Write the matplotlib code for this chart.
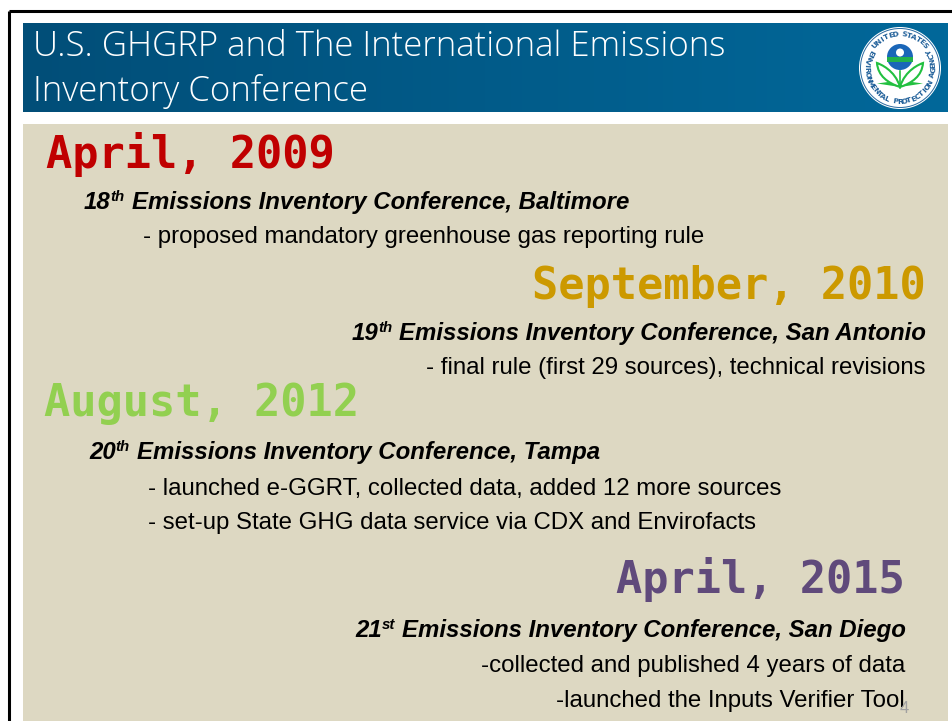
import numpy as np
import matplotlib
matplotlib.use('Agg')
import matplotlib.pyplot as plt
from matplotlib.patches import Circle, Rectangle, Polygon, Wedge, PathPatch
from matplotlib.path import Path

W, H = 952, 721
PT = 72 / 100  # pixels to points

title_lines = ['U.S. GHGRP and The International Emissions', 'Inventory Conference']
title_y = [56, 101]

# heading text, colour, anchor x, baseline y, alignment
dates = ['April, 2009', 'September, 2010', 'August, 2012', 'April, 2015']
date_colors = ['#C00000', '#CC9900', '#92D050', '#604A7B']
date_x = [46, 926, 44, 905]
date_y = [168, 299, 416, 593]
date_ha = ['left', 'right', 'left', 'right']

# conference lines: ordinal, suffix, rest
ordinals = ['18', '19', '20', '21']
suffixes = ['th', 'th', 'th', 'st']
conf_rest = ['Emissions Inventory Conference, Baltimore',
             'Emissions Inventory Conference, San Antonio',
             'Emissions Inventory Conference, Tampa',
             'Emissions Inventory Conference, San Diego']
conf_x = [84, 926, 89, 906]
conf_y = [209, 340, 459, 637]
conf_ha = ['left', 'right', 'left', 'right']

notes = ['- proposed mandatory greenhouse gas reporting rule',
         '- final rule (first 29 sources), technical revisions',
         '- launched e-GGRT, collected data, added 12 more sources',
         '- set-up State GHG data service via CDX and Envirofacts',
         '-collected and published 4 years of data',
         '-launched the Inputs Verifier Tool']
note_x = [143, 925, 148, 148, 905, 905]
note_y = [243, 374, 495, 529, 672, 707]
note_ha = ['left', 'right', 'left', 'left', 'right', 'right']

seal_top = 'UNITED STATES'
seal_bottom = 'ENVIRONMENTAL PROTECTION AGENCY'

fig = plt.figure(figsize=(W / 100, H / 100), dpi=100, facecolor='white')
ax = fig.add_axes([0, 0, 1, 1])
ax.set_xlim(0, W)
ax.set_ylim(H, 0)
ax.axis('off')

# slide frame
ax.plot([8.5, 8.5], [H, 10.5], color='black', lw=2.2, solid_capstyle='butt')
ax.plot([8.5, W], [10.5, 10.5], color='black', lw=2.2, solid_capstyle='butt')

# header band and body
grad = np.linspace(0, 1, 256).reshape(1, -1)
cmap = matplotlib.colors.LinearSegmentedColormap.from_list('hdr', ['#024E78', '#01689A'])
ax.imshow(grad, extent=[23, 948, 112, 23], cmap=cmap, aspect='auto', zorder=1)
ax.set_xlim(0, W)
ax.set_ylim(H, 0)
ax.add_patch(Rectangle((23, 124), 925, H - 124, fc='#DDD8C2', ec='none', zorder=1))

for line, y in zip(title_lines, title_y):
    ax.text(33, y, line, color='white', fontsize=34.75 * PT, family='Open Sans', weight='light',
            va='baseline', ha='left', zorder=3)

for t, c, x, y, ha in zip(dates, date_colors, date_x, date_y, date_ha):
    ax.text(x, y, t, color=c, fontsize=43.7 * PT, family='DejaVu Sans Mono', weight='bold',
            va='baseline', ha=ha, zorder=3)

renderer = fig.canvas.get_renderer()


def width_of(s, **kw):
    t = ax.text(0, 0, s, **kw)
    w = t.get_window_extent(renderer).width
    t.remove()
    return w


body = dict(family='Liberation Sans', style='italic', weight='bold', color='black', zorder=3)
for o, s, r, x, y, ha in zip(ordinals, suffixes, conf_rest, conf_x, conf_y, conf_ha):
    main_kw = dict(fontsize=24 * PT, **body)
    sup_kw = dict(fontsize=15 * PT, **body)
    wo = width_of(o, **main_kw)
    ws = width_of(s, **sup_kw)
    wr = width_of(r, **main_kw)
    gap = 7
    x0 = x if ha == 'left' else x - (wo + ws + gap + wr)
    ax.text(x0, y, o, va='baseline', ha='left', **main_kw)
    ax.text(x0 + wo, y - 8, s, va='baseline', ha='left', **sup_kw)
    ax.text(x0 + wo + ws + gap, y, r, va='baseline', ha='left', **main_kw)

for t, x, y, ha in zip(notes, note_x, note_y, note_ha):
    ax.text(x, y, t, color='black', fontsize=24 * PT, family='Liberation Sans',
            va='baseline', ha=ha, zorder=3)

# slide number
ax.text(904.5, 713, '4', color='#A0A0A0', fontsize=16.5 * PT, family='Liberation Sans',
        va='baseline', ha='center', zorder=3)

# EPA seal
cx, cy = 900, 68
ax.add_patch(Circle((cx, cy), 41, fc='white', ec='none', zorder=4))
ax.add_patch(Circle((cx, cy), 39.5, fc='none', ec='#2A6AA0', lw=0.7, zorder=5))
seal_kw = dict(fontsize=7.5 * PT, family='DejaVu Sans', color='#1F5F99', weight='bold',
               ha='center', va='center', rotation_mode='anchor', zorder=6)
for ch, deg in zip(seal_top, np.linspace(222, 318, len(seal_top))):
    a = np.deg2rad(deg)
    ax.text(cx + 33.5 * np.cos(a), cy + 33.5 * np.sin(a), ch, rotation=-(deg + 90), **seal_kw)
for ch, deg in zip(seal_bottom, np.linspace(208, -28, len(seal_bottom))):
    a = np.deg2rad(deg)
    ax.text(cx + 33.5 * np.cos(a), cy + 33.5 * np.sin(a), ch, rotation=90 - deg, **seal_kw)

# flower head
ax.add_patch(Wedge((cx, 57), 13, 0, 360, fc='#1A66B8', ec='none', zorder=6))
ax.add_patch(Rectangle((cx - 12.8, 57), 25.6, 4.5, fc='#22B14C', ec='none', zorder=7))
ax.add_patch(Circle((cx, 52.5), 4, fc='white', ec='none', zorder=8))

# leaves
for sgn in (-1, 1):
    verts = [(cx, 87), (cx + sgn * 5, 70), (cx + sgn * 20, 64), (cx + sgn * 23, 63),
             (cx + sgn * 22, 76), (cx + sgn * 12, 83), (cx, 87)]
    codes = [Path.MOVETO, Path.CURVE4, Path.CURVE4, Path.CURVE4,
             Path.CURVE4, Path.CURVE4, Path.CURVE4]
    ax.add_patch(PathPatch(Path(verts, codes), fc='white', ec='#22C040', lw=1.5, zorder=6))
    ax.add_patch(Polygon([(cx, 87), (cx + sgn * 12, 82), (cx + sgn * 23, 83.5)],
                         fc='#22C040', ec='none', zorder=7))
ax.plot([cx, cx], [71, 88], color='#22C040', lw=1.2, zorder=7)

fig.savefig('out.png', dpi=100, facecolor='white')
